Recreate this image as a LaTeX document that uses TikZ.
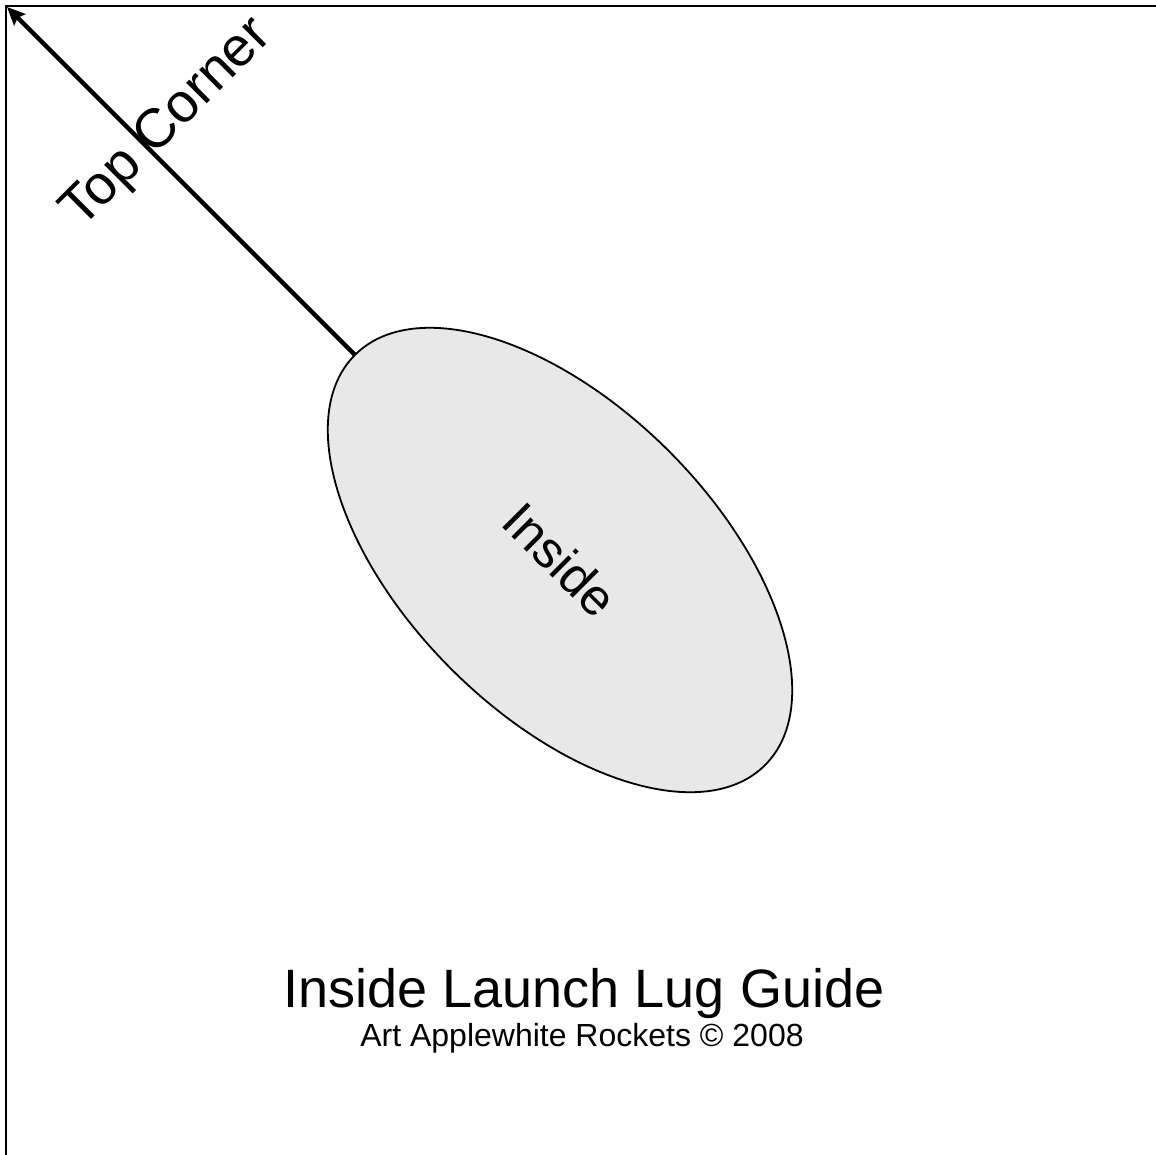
\documentclass[tikz,border=0pt]{standalone}
\usepackage{fontspec}
\setmainfont{Liberation Sans}
\usetikzlibrary{shapes.geometric,arrows.meta}

\definecolor{lugfill}{RGB}{232,232,232}

\tikzset{
  frameline/.style={line width=2.5pt, line cap=rect},
  lugshape/.style={ellipse, draw, line width=1.8pt, fill=lugfill,
    minimum width=580pt, minimum height=308pt, inner sep=0pt, rotate=-45,
    font=\fontsize{51}{60}\selectfont},
  pointer/.style={line width=4.4pt,
    -{Stealth[length=18pt, width=16pt, inset=3pt]}},
  titletext/.style={inner sep=0pt, anchor=base, font=\fontsize{54}{60}\selectfont},
  credittext/.style={inner sep=0pt, anchor=base, font=\fontsize{32}{38}\selectfont},
  cornertext/.style={inner sep=0pt, anchor=base west, rotate=45,
    font=\fontsize{55}{60}\selectfont}
}

\begin{document}
\begin{tikzpicture}[x=1pt, y=-1pt]
  \useasboundingbox (0,0) rectangle (1156,1154);

  % sheet edge: top and left sides of the template
  \draw[frameline] (1160,6) -- (6,6) -- (6,1160);

  % launch lug outline
  \node[lugshape] (lug) at (560,560) {Inside};

  % pointer to the top corner
  \coordinate (corner) at (7,7);
  \draw[pointer] (lug) -- (corner);
  \node[cornertext] (cornerlabel) at (81,230) {Top Corner};

  % titles
  \node[titletext] (title) at (584,1007) {Inside Launch Lug Guide};
  \node[credittext] (credit) at (582,1046) {Art Applewhite Rockets © 2008};
\end{tikzpicture}
\end{document}
